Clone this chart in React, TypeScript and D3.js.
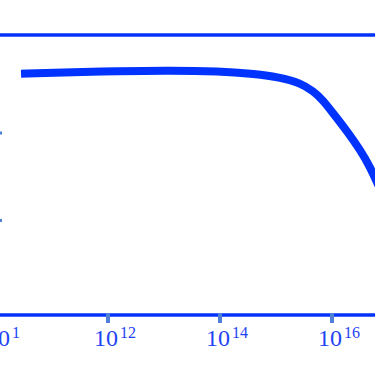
import { useEffect, useRef } from 'react';
import * as d3 from 'd3';

// curve samples (x on log scale, y normalised)
const xValues = [2.8e10, 1.4e11, 1.6e12, 1.3e13, 1e14, 3.5e14, 1.2e15, 2.7e15, 4.6e15, 6.9e15, 1.05e16, 1.9e16, 3.2e16, 4.8e16, 7.2e16];
const yValues = [0.919, 0.923, 0.927, 0.929, 0.926, 0.92, 0.909, 0.893, 0.87, 0.844, 0.806, 0.753, 0.701, 0.653, 0.59];

const xTicks = [1e10, 1e12, 1e14, 1e16];
const xTickExps = ['1', '12', '14', '16'];
const yTicks = [0.5, 0.75];
const refLine = 1.03;

export default function App() {
    const ref = useRef<SVGSVGElement>(null);

    useEffect(() => {
        const width = 375;
        const height = 366;
        const blue = '#0033ff';
        const tickBlue = '#4f7fd6';

        const svg = d3.select(ref.current);
        svg.selectAll('*').remove();

        const x = d3.scaleLog().domain([1e10, 1e17]).range([-4, 388]);
        const y = d3.scaleLinear().domain([0.23, 1.03]).range([315, 35]);

        // top reference line
        svg.append('line')
            .attr('x1', 0).attr('x2', width)
            .attr('y1', y(refLine)).attr('y2', y(refLine))
            .attr('stroke', blue).attr('stroke-width', 3.5);

        // y ticks (axis itself sits just off the left edge)
        svg.selectAll('.ytick')
            .data(yTicks)
            .join('line')
            .attr('x1', -6).attr('x2', 2)
            .attr('y1', d => y(d)).attr('y2', d => y(d))
            .attr('stroke', tickBlue).attr('stroke-width', 3);

        // x axis
        const axisY = y(0.23);
        svg.append('line')
            .attr('x1', 0).attr('x2', width)
            .attr('y1', axisY).attr('y2', axisY)
            .attr('stroke', blue).attr('stroke-width', 3.5);

        svg.selectAll('.xtick')
            .data(xTicks)
            .join('line')
            .attr('x1', d => x(d)).attr('x2', d => x(d))
            .attr('y1', axisY - 2).attr('y2', axisY + 8)
            .attr('stroke', tickBlue).attr('stroke-width', 4);

        const labels = svg.selectAll('.xlabel')
            .data(xTicks)
            .join('text')
            .attr('x', d => x(d) + 7)
            .attr('y', axisY + 31)
            .attr('text-anchor', 'middle')
            .attr('font-family', '"Liberation Serif", serif')
            .attr('font-size', 24)
            .attr('fill', '#1d44f5');
        labels.append('tspan').text('10');
        labels.append('tspan')
            .attr('font-size', 16)
            .attr('dy', -8)
            .attr('dx', 2)
            .text((_, i) => xTickExps[i]);

        const line = d3.line<number>()
            .x((_, i) => x(xValues[i]))
            .y(d => y(d))
            .curve(d3.curveBasis);

        svg.append('path')
            .datum(yValues)
            .attr('fill', 'none')
            .attr('stroke', blue)
            .attr('stroke-width', 8)
            .attr('d', line);
    }, []);

    return (
        <svg
            ref={ref}
            width={375}
            height={366}
            style={{ position: 'absolute', left: 0, top: 0, background: '#fff' }}
        />
    );
}
